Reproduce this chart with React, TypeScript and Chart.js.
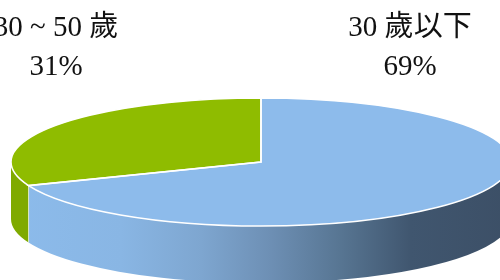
import { useEffect, useRef } from "react";
import { Chart, PieController, ArcElement } from "chart.js";

Chart.register(PieController, ArcElement);

const categories = ["30 歲以下", "30 ~ 50 歲"];
const values = [69, 31];
const topColors = ["#8DBBEB", "#8FBC00"];
const wallColors = ["gradient", "#7FAA00"];

// layout of the 3D pie (ellipse centre, radii, extrusion depth)
const GEO = { cx: 261, cy: 162, rx: 250, ry: 64, depth: 57 };
// label anchors (centre of first text line)
const LABEL_POS = [
  { x: 410, y: 28 },
  { x: 56, y: 28 },
];
const LINE_GAP = 39;
const FONT = '29px "Liberation Serif", "Noto Sans CJK TC", serif';

const pie3d = {
  id: "pie3d",
  beforeDatasetsDraw(chart: any) {
    const ctx: CanvasRenderingContext2D = chart.ctx;
    const meta = chart.getDatasetMeta(0);
    const { cx, cy, rx, ry, depth } = GEO;
    const grad = ctx.createLinearGradient(cx - rx, 0, cx + rx, 0);
    grad.addColorStop(0, "#8CBBEB");
    grad.addColorStop(0.22, "#89B6E4");
    grad.addColorStop(0.38, "#7EA6D0");
    grad.addColorStop(0.52, "#6D8FB4");
    grad.addColorStop(0.66, "#577592");
    grad.addColorStop(0.8, "#40566F");
    grad.addColorStop(1, "#3C4F66");
    meta.data.forEach((arc: any, i: number) => {
      const s = arc.startAngle;
      const e = arc.endAngle;
      for (let k = -1; k <= 1; k++) {
        const lo = Math.max(s, 2 * Math.PI * k);
        const hi = Math.min(e, 2 * Math.PI * k + Math.PI);
        if (hi <= lo) continue;
        ctx.save();
        ctx.beginPath();
        ctx.ellipse(cx, cy, rx, ry, 0, lo, hi);
        ctx.ellipse(cx, cy + depth, rx, ry, 0, hi, lo, true);
        ctx.closePath();
        ctx.fillStyle = wallColors[i] === "gradient" ? grad : wallColors[i];
        ctx.fill();
        ctx.restore();
      }
    });
    // seams between wall pieces
    meta.data.forEach((arc: any) => {
      const a = arc.startAngle;
      if (Math.sin(a) > 0) {
        const x = cx + rx * Math.cos(a);
        const y = cy + ry * Math.sin(a);
        ctx.save();
        ctx.strokeStyle = "rgba(255,255,255,0.6)";
        ctx.lineWidth = 1;
        ctx.beginPath();
        ctx.moveTo(x, y);
        ctx.lineTo(x, y + depth);
        ctx.stroke();
        ctx.restore();
      }
    });
    const arc0 = meta.data[0];
    const R = arc0.outerRadius;
    ctx.save();
    ctx.translate(cx, cy);
    ctx.scale(rx / R, ry / R);
    ctx.translate(-arc0.x, -arc0.y);
  },
  afterDatasetsDraw(chart: any) {
    const ctx: CanvasRenderingContext2D = chart.ctx;
    ctx.restore();
    const meta = chart.getDatasetMeta(0);
    const { cx, cy, rx, ry } = GEO;
    ctx.save();
    ctx.strokeStyle = "#FFFFFF";
    ctx.lineWidth = 1.6;
    meta.data.forEach((arc: any) => {
      ctx.beginPath();
      ctx.moveTo(cx, cy);
      ctx.ellipse(cx, cy, rx, ry, 0, arc.startAngle, arc.endAngle);
      ctx.closePath();
      ctx.stroke();
    });
    ctx.restore();
    const total = values.reduce((a, b) => a + b, 0);
    ctx.save();
    ctx.font = FONT;
    ctx.fillStyle = "#111111";
    ctx.textAlign = "center";
    ctx.textBaseline = "middle";
    categories.forEach((c, i) => {
      const p = LABEL_POS[i];
      ctx.fillText(c, p.x, p.y);
      ctx.fillText(Math.round((values[i] / total) * 100) + "%", p.x, p.y + LINE_GAP);
    });
    ctx.restore();
  },
};

export default function App() {
  const ref = useRef<HTMLCanvasElement | null>(null);
  useEffect(() => {
    if (!ref.current) return;
    const chart = new Chart(ref.current, {
      type: "pie",
      data: {
        labels: categories,
        datasets: [
          {
            data: values,
            backgroundColor: topColors,
            borderWidth: 0,
          },
        ],
      },
      options: {
        animation: false,
        responsive: false,
        devicePixelRatio: 1,
        layout: { padding: 20 },
        plugins: {
          legend: { display: false },
          tooltip: { enabled: false },
        },
      },
      plugins: [pie3d],
    } as any);
    return () => chart.destroy();
  }, []);
  return (
    <div style={{ position: "fixed", left: 0, top: 0, width: 500, height: 280, background: "#fff" }}>
      <canvas ref={ref} width={500} height={280} style={{ display: "block" }} />
    </div>
  );
}
